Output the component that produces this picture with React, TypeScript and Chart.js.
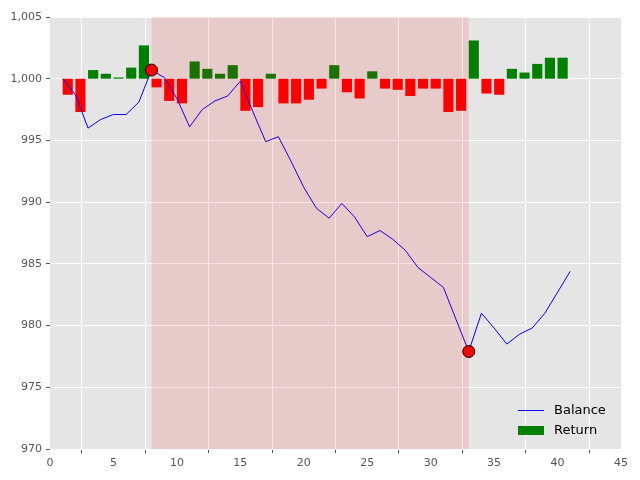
import React, { useEffect, useRef } from "react";
import { Chart, registerables } from "chart.js";

Chart.register(...registerables);

const steps = [1, 2, 3, 4, 5, 6, 7, 8, 9, 10, 11, 12, 13, 14, 15, 16, 17, 18, 19, 20, 21, 22, 23, 24, 25, 26, 27, 28, 29, 30, 31, 32, 33, 34, 35, 36, 37, 38, 39, 40, 41];
const balance = [1000, 998.7, 996, 996.7, 997.1, 997.1, 998.1, 1000.7, 1000.1, 998.4, 996.1, 997.5, 998.2, 998.6, 999.8, 997.3, 994.9, 995.3, 993.3, 991.2, 989.5, 988.7, 989.9, 988.8, 987.2, 987.7, 987.0, 986.1, 984.7, 983.9, 983.1, 980.5, 977.9, 981.0, 979.8, 978.5, 979.3, 979.8, 981.0, 982.7, 984.4];
const returns = [-1.3, -2.7, 0.7, 0.4, 0.1, 0.9, 2.7, -0.7, -1.8, -2.0, 1.4, 0.8, 0.4, 1.1, -2.6, -2.3, 0.4, -2.0, -2.0, -1.7, -0.8, 1.1, -1.1, -1.6, 0.6, -0.8, -0.9, -1.4, -0.8, -0.8, -2.7, -2.6, 3.1, -1.2, -1.3, 0.8, 0.5, 1.2, 1.7, 1.7];
const baseLevel = 1000;
const drawdownStart = 8;
const drawdownEnd = 33;
const markerX = [8, 33];
const markerY = [1000.7, 977.9];

const spanPlugin = {
  id: "span",
  afterDatasetsDraw(chart: any) {
    const { ctx, chartArea, scales } = chart;
    const x0 = scales.x.getPixelForValue(drawdownStart);
    const x1 = scales.x.getPixelForValue(drawdownEnd);
    ctx.save();
    ctx.fillStyle = "rgba(255,0,0,0.11)";
    ctx.fillRect(x0, chartArea.top, x1 - x0, chartArea.bottom - chartArea.top);
    ctx.restore();
  },
};

const App: React.FC = () => {
  const canvasRef = useRef<HTMLCanvasElement | null>(null);

  useEffect(() => {
    const ctx = canvasRef.current?.getContext("2d");
    if (!ctx) return;
    const tickFont = { family: "DejaVu Sans", size: 11 };
    const chart = new Chart(ctx, {
      data: {
        datasets: [
          {
            type: "scatter",
            data: markerX.map((x, i) => ({ x, y: markerY[i] })),
            pointRadius: 6,
            backgroundColor: "#ff0000",
            borderColor: "#000",
            borderWidth: 1,
            order: 0,
          },
          {
            type: "line",
            data: steps.map((x, i) => ({ x, y: balance[i] })),
            borderColor: "#0000ff",
            borderWidth: 1,
            pointRadius: 0,
            order: 1,
          },
          {
            type: "bar",
            data: returns.map((r, i) => ({ x: steps[i] + 0.4, y: [baseLevel, baseLevel + r] })) as any,
            backgroundColor: returns.map((r) => (r >= 0 ? "#008000" : "#ff0000")),
            barPercentage: 0.8,
            categoryPercentage: 1,
            order: 2,
          },
        ] as any,
      },
      options: {
        animation: false,
        responsive: false,
        layout: { padding: { top: 17, right: 19 } },
        plugins: { legend: { display: false }, tooltip: { enabled: false } },
        scales: {
          x: {
            type: "linear",
            min: 0,
            max: 45,
            offset: false,
            ticks: { stepSize: 5, color: "#555", font: tickFont, padding: 4 },
            grid: { color: "#ffffff", lineWidth: 1, tickLength: 4, tickColor: "#555" },
            border: { display: false },
            afterFit: (s: any) => { s.height = 31; },
          },
          y: {
            min: 970,
            max: 1005,
            ticks: { stepSize: 5, color: "#555", font: tickFont, padding: 4 },
            grid: { color: "#ffffff", lineWidth: 1, tickLength: 4, tickColor: "#555" },
            border: { display: false },
            afterFit: (s: any) => { s.width = 50; },
          },
        },
      },
      plugins: [
        {
          id: "bg",
          beforeDraw(c: any) {
            const { ctx: g, chartArea: a } = c;
            g.save();
            g.fillStyle = "#e5e5e5";
            g.fillRect(a.left, a.top, a.right - a.left, a.bottom - a.top);
            g.restore();
          },
        },
        spanPlugin,
      ],
    });
    return () => chart.destroy();
  }, []);

  return (
    <div style={{ position: "relative", width: 640, height: 480, margin: -8, background: "#fff", fontFamily: "DejaVu Sans" }}>
      <canvas ref={canvasRef} width={640} height={480}></canvas>
      <div style={{ position: "absolute", left: 518, top: 400, fontSize: 13, color: "#000", lineHeight: "20px" }}>
        <div style={{ display: "flex", alignItems: "center" }}>
          <span style={{ display: "inline-block", width: 26, height: 1, background: "#0000ff", marginRight: 10 }}></span>
          Balance
        </div>
        <div style={{ display: "flex", alignItems: "center" }}>
          <span style={{ display: "inline-block", width: 26, height: 9, background: "#008000", marginRight: 10 }}></span>
          Return
        </div>
      </div>
    </div>
  );
};

export default App;
